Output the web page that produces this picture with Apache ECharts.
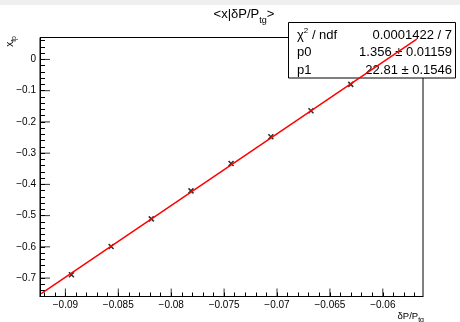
<!DOCTYPE html>
<html>
<head>
<meta charset="utf-8">
<script src="https://cdn.jsdelivr.net/npm/echarts@6/dist/echarts.min.js"></script>
<style>
  html, body { margin: 0; padding: 0; background: #fff; }
  #chart { width: 460px; height: 322px; }
</style>
</head>
<body>
<div id="chart"></div>
<script>
// measured points (dP/P_tg, x_fp)
var dpValues = [-0.08943, -0.08568, -0.08188, -0.07813, -0.07434, -0.07058, -0.06679, -0.06303, -0.05924];
var xfpValues = [-0.6894, -0.5989, -0.5104, -0.4209, -0.3333, -0.2474, -0.1643, -0.0799, 0.0047];
// fit line end points
var fitX = [-0.09229, -0.05679];
var fitY = [-0.7501, 0.0649];
// tick labels
var xTicks = [-0.09, -0.085, -0.08, -0.075, -0.07, -0.065, -0.06];
var yTicks = [-0.7, -0.6, -0.5, -0.4, -0.3, -0.2, -0.1, 0];
// stats box
var statNames = ["{n|χ}{sup|2}{n| / ndf}", "p0", "p1"];
var statValues = ["0.0001422 / 7", "1.356 ± 0.01159", "22.81 ± 0.1546"];

var XMIN = -0.0924, XMAX = -0.0562;
var YMIN = -0.759, YMAX = 0.0703;
var FONT = "Liberation Sans";

// all tick positions (major + minor, ROOT style): axis draws them short,
// the major ones are lengthened by small marks below
var xAllTicks = [];
for (var i = -92; i <= -57; i++) xAllTicks.push(i / 1000);
var yAllTicks = [];
for (var j = -37; j <= 3; j++) yAllTicks.push(j / 50);

function fmt(v) {
  if (Math.abs(v) < 1e-9) return "0";
  return v < 0 ? "\u2212" + String(Math.abs(v)) : String(v);
}

var points = dpValues.map(function (d, k) { return [d, xfpValues[k]]; });
var fitLine = fitX.map(function (d, k) { return [d, fitY[k]]; });

var mycharts = echarts.init(document.getElementById("chart"));

var statGraphics = [
  {
    type: "rect",
    shape: { x: 288.5, y: 22.5, width: 167, height: 55.5 },
    style: { fill: "#fff", stroke: "#000", lineWidth: 1 },
    z: 10
  }
];
var rowY = [35, 52.5, 70];
statNames.forEach(function (name, k) {
  statGraphics.push({
    type: "text",
    x: 297, y: rowY[k],
    style: {
      text: k === 0 ? name : "{n|" + name + "}",
      align: "left", verticalAlign: "middle",
      rich: {
        n: { fontSize: 13, fontFamily: FONT, fill: "#000" },
        sup: { fontSize: 8, fontFamily: FONT, fill: "#000", padding: [0, 0, 8, 0] }
      }
    },
    z: 11
  });
  statGraphics.push({
    type: "text",
    x: 452, y: rowY[k],
    style: {
      text: statValues[k],
      align: "right", verticalAlign: "middle",
      fontSize: 13, fontFamily: FONT, fill: "#000"
    },
    z: 11
  });
});

var option = {
  animation: false,
  backgroundColor: "#fff",
  grid: {
    left: 40, right: 37, top: 37.5, bottom: 25.5,
    show: true, borderColor: "#000", borderWidth: 1, backgroundColor: "transparent"
  },
  xAxis: {
    type: "value", min: XMIN, max: XMAX, position: "bottom",
    axisLine: { show: true, onZero: false, lineStyle: { color: "#000", width: 1 } },
    axisTick: { show: true, inside: true, length: 4, customValues: xAllTicks, lineStyle: { color: "#000" } },
    axisLabel: {
      customValues: xTicks, formatter: fmt, color: "#000",
      fontSize: 10, fontFamily: FONT, margin: 4
    },
    splitLine: { show: false }
  },
  yAxis: {
    type: "value", min: YMIN, max: YMAX, position: "left",
    axisLine: { show: true, onZero: false, lineStyle: { color: "#000", width: 1 } },
    axisTick: { show: true, inside: true, length: 5, customValues: yAllTicks, lineStyle: { color: "#000" } },
    axisLabel: {
      customValues: yTicks, formatter: fmt, color: "#000",
      fontSize: 10, fontFamily: FONT, margin: 4
    },
    splitLine: { show: false }
  },
  graphic: [
    { type: "rect", shape: { x: 0, y: 0, width: 460, height: 5 }, style: { fill: "#efefef" }, z: 0 },
    {
      type: "text", x: 244, y: 3,
      style: {
        text: "{m|<x|δP/P}{s|tg}{m|>}",
        align: "center", verticalAlign: "top",
        rich: {
          m: { fontSize: 13, fontFamily: FONT, fill: "#000" },
          s: { fontSize: 9, fontFamily: FONT, fill: "#000", padding: [13, 0, 0, 0] }
        }
      }
    },
    {
      type: "text", x: 10, y: 36, rotation: Math.PI / 2,
      style: {
        text: "{m|x}{s|fp}",
        align: "right", verticalAlign: "middle",
        rich: {
          m: { fontSize: 10, fontFamily: FONT, fill: "#000" },
          s: { fontSize: 7, fontFamily: FONT, fill: "#000", padding: [8, 0, 0, 0] }
        }
      }
    },
    {
      type: "text", x: 424, y: 308,
      style: {
        text: "{m|δP/P}{s|tg}",
        align: "right", verticalAlign: "top",
        rich: {
          m: { fontSize: 9.5, fontFamily: FONT, fill: "#000" },
          s: { fontSize: 7, fontFamily: FONT, fill: "#000", padding: [9, 0, 0, 0] }
        }
      }
    }
  ].concat(statGraphics),
  series: [
    {
      type: "scatter",
      data: points,
      symbol: "path://M0,0L10,10M10,0L0,10",
      symbolSize: 5,
      itemStyle: { color: "none", borderColor: "#000", borderWidth: 1.6 },
      z: 2
    },
    {
      type: "line",
      data: fitLine,
      showSymbol: false,
      symbol: "none",
      lineStyle: { color: "#ff0000", width: 1.5 },
      z: 20
    },
    {
      // longer x major ticks
      type: "scatter",
      data: xTicks.map(function (v) { return [v, YMIN]; }),
      symbol: "rect",
      symbolSize: [1, 8],
      symbolOffset: [0, -4],
      itemStyle: { color: "#000" },
      clip: false,
      silent: true,
      z: 3
    },
    {
      // longer y major ticks
      type: "scatter",
      data: yTicks.map(function (v) { return [XMIN, v]; }),
      symbol: "rect",
      symbolSize: [10, 1],
      symbolOffset: [5, 0],
      itemStyle: { color: "#000" },
      clip: false,
      silent: true,
      z: 3
    }
  ]
};
mycharts.setOption(option);
</script>
</body>
</html>
